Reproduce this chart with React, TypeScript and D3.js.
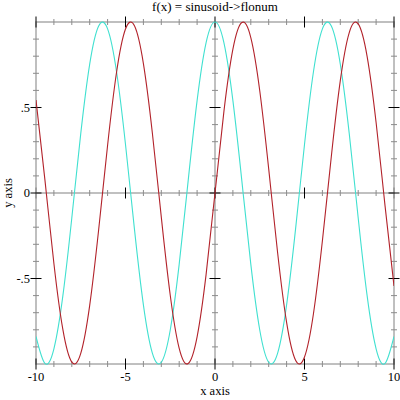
import React from "react";
import * as d3 from "d3";

// sample points (x step 0.5)
const xs = [
  -10, -9.5, -9, -8.5, -8, -7.5, -7, -6.5, -6, -5.5, -5, -4.5, -4, -3.5, -3, -2.5, -2, -1.5, -1, -0.5,
  0, 0.5, 1, 1.5, 2, 2.5, 3, 3.5, 4, 4.5, 5, 5.5, 6, 6.5, 7, 7.5, 8, 8.5, 9, 9.5, 10,
];
const redValues = [
  0.544, 0.075, -0.412, -0.798, -0.989, -0.938, -0.657, -0.215, 0.279, 0.706, 0.959, 0.978, 0.757, 0.351,
  -0.141, -0.598, -0.909, -0.997, -0.841, -0.479, 0, 0.479, 0.841, 0.997, 0.909, 0.598, 0.141, -0.351,
  -0.757, -0.978, -0.959, -0.706, -0.279, 0.215, 0.657, 0.938, 0.989, 0.798, 0.412, -0.075, -0.544,
];
const cyanValues = [
  -0.839, -0.997, -0.911, -0.602, -0.146, 0.347, 0.754, 0.977, 0.96, 0.709, 0.284, -0.211, -0.654, -0.936,
  -0.99, -0.801, -0.416, 0.071, 0.54, 0.878, 1, 0.878, 0.54, 0.071, -0.416, -0.801, -0.99, -0.936, -0.654,
  -0.211, 0.284, 0.709, 0.96, 0.977, 0.754, 0.347, -0.146, -0.602, -0.911, -0.997, -0.839,
];

const xMajor = [-10, -5, 0, 5, 10];
const xMajorLabels = ["-10", "-5", "0", "5", "10"];
const xMinor = [-9, -8, -7, -6, -4, -3, -2, -1, 1, 2, 3, 4, 6, 7, 8, 9];
const yMajor = [-0.5, 0, 0.5];
const yMajorLabels = ["-.5", "0", ".5"];
const yMinor = [-0.9, -0.8, -0.7, -0.6, -0.4, -0.3, -0.2, -0.1, 0.1, 0.2, 0.3, 0.4, 0.6, 0.7, 0.8, 0.9];

const W = 400;
const H = 400;
const left = 36;
const right = 394;
const top = 22;
const bottom = 364;
const font = "'Liberation Serif', 'Times New Roman', serif";
const axisGray = "#ababab";
const minorGray = "#8c8c8c";

export default function App() {
  const x = d3.scaleLinear().domain([-10, 10]).range([left, right]);
  const y = d3.scaleLinear().domain([-1, 1]).range([bottom, top]);

  const line = d3
    .line<number>()
    .x((_, i) => x(xs[i]))
    .y((d) => y(d))
    .curve(d3.curveNatural);

  const x0 = x(0);
  const y0 = y(0);

  // vertical ticks on a horizontal line at position py
  const hTicks = (py: number, key: string) => (
    <g key={key}>
      {xMinor.map((v) => (
        <line key={v} x1={x(v)} x2={x(v)} y1={py - 3} y2={py + 3} stroke={minorGray} strokeWidth={1} />
      ))}
      {xMajor.map((v) => (
        <line key={v} x1={x(v)} x2={x(v)} y1={py - 5.5} y2={py + 5.5} stroke="#000" strokeWidth={1} />
      ))}
    </g>
  );
  const vTicks = (px: number, key: string) => (
    <g key={key}>
      {yMinor.map((v) => (
        <line key={v} y1={y(v)} y2={y(v)} x1={px - 3} x2={px + 3} stroke={minorGray} strokeWidth={1} />
      ))}
      {yMajor.map((v) => (
        <line key={v} y1={y(v)} y2={y(v)} x1={px - 5.5} x2={px + 5.5} stroke="#000" strokeWidth={1} />
      ))}
    </g>
  );

  return (
    <div style={{ position: "fixed", left: 0, top: 0 }}>
      <svg width={W} height={H} style={{ display: "block", background: "#fff" }}>
        <defs>
          <clipPath id="plotClip">
            <rect x={left} y={top - 1} width={right - left} height={bottom - top + 2} />
          </clipPath>
        </defs>

        <text x={(left + right) / 2} y={11} textAnchor="middle" fontFamily={font} fontSize={13}>
          f(x) = sinusoid-&gt;flonum
        </text>

        {/* zero axes */}
        <line x1={left} x2={right} y1={y0} y2={y0} stroke={axisGray} strokeWidth={1.5} />
        <line x1={x0} x2={x0} y1={top} y2={bottom} stroke={axisGray} strokeWidth={1.5} />
        {hTicks(y0, "zx")}
        {vTicks(x0, "zy")}

        {/* border */}
        <rect x={left} y={top} width={right - left} height={bottom - top} fill="none" stroke={axisGray} strokeWidth={1.5} />
        {hTicks(top, "tx")}
        {hTicks(bottom, "bx")}
        {vTicks(left, "ly")}
        {vTicks(right, "ry")}

        <g clipPath="url(#plotClip)">
          <path d={line(cyanValues) || ""} fill="none" stroke="#40e0d0" strokeWidth={1.1} />
          <path d={line(redValues) || ""} fill="none" stroke="#b2222a" strokeWidth={1.1} />
        </g>

        {xMajor.map((v, i) => (
          <text key={v} x={x(v)} y={381} textAnchor="middle" fontFamily={font} fontSize={12.5}>
            {xMajorLabels[i]}
          </text>
        ))}
        {yMajor.map((v, i) => (
          <text key={v} x={30} y={y(v)} dy="0.35em" textAnchor="end" fontFamily={font} fontSize={12.5}>
            {yMajorLabels[i]}
          </text>
        ))}

        <text x={(left + right) / 2} y={395} textAnchor="middle" fontFamily={font} fontSize={12.5}>
          x axis
        </text>
        <text
          transform={`translate(12,${y0}) rotate(-90)`}
          textAnchor="middle"
          fontFamily={font}
          fontSize={12.5}
        >
          y axis
        </text>
      </svg>
    </div>
  );
}
